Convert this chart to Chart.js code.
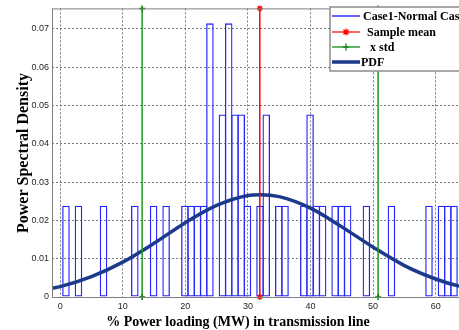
<!DOCTYPE html>
<html>
<head>
<meta charset="utf-8">
<script src="https://cdn.jsdelivr.net/npm/chart.js@4.4.1/dist/chart.umd.min.js"></script>
<style>
html, body { margin: 0; padding: 0; background: #fff; overflow: hidden; }
#wrap { position: relative; width: 480px; height: 330px; }
</style>
</head>
<body>
<div id="wrap"><canvas id="psdChart" width="480" height="330"></canvas></div>
<script>
// Histogram bins (centres, % loading) and density heights
const binCenters = [
    0.93, 1.93, 2.93, 3.93, 4.93, 5.93, 6.93, 7.93, 8.93, 9.93,
    10.93, 11.93, 12.93, 13.93, 14.93, 15.93, 16.93, 17.93, 18.93, 19.93,
    20.93, 21.93, 22.93, 23.93, 24.93, 25.93, 26.93, 27.93, 28.93, 29.93,
    30.93, 31.93, 32.93, 33.93, 34.93, 35.93, 36.93, 37.93, 38.93, 39.93,
    40.93, 41.93, 42.93, 43.93, 44.93, 45.93, 46.93, 47.93, 48.93, 49.93,
    50.93, 51.93, 52.93, 53.93, 54.93, 55.93, 56.93, 57.93, 58.93, 59.93,
    60.93, 61.93, 62.93, 63.93
];
const density = [
    0.0238, 0, 0.0238, 0, 0, 0, 0.0238, 0, 0, 0,
    0, 0.0238, 0, 0, 0.0238, 0, 0.0238, 0, 0, 0.0238,
    0.0238, 0.0238, 0.0238, 0.0714, 0, 0.0476, 0.0714, 0.0476, 0.0476, 0.0238,
    0, 0.0238, 0.0476, 0, 0.0238, 0.0238, 0, 0, 0.0238, 0.0476,
    0.0238, 0.0238, 0, 0.0238, 0.0238, 0.0238, 0, 0, 0.0238, 0,
    0, 0, 0.0238, 0, 0, 0, 0, 0, 0.0238, 0,
    0.0238, 0.0238, 0.0238, 0
];

// Fitted PDF, sampled from the curve
const pdfX = [-1.3, 0, 5, 10, 15, 20, 25, 30, 32, 35, 40, 45, 50, 55, 60, 63.6, 66.2];
const pdfY = [0.0023, 0.0027, 0.0053, 0.0091, 0.0140, 0.0194, 0.0239, 0.0265, 0.0267,
              0.0262, 0.0232, 0.0183, 0.0130, 0.0082, 0.0047, 0.0029, 0.0021];

const sampleMean = 31.9;
const stdLines = [13.1, 50.8];

const xTicks = [0, 10, 20, 30, 40, 50, 60];
const yTicks = [0, 0.01, 0.02, 0.03, 0.04, 0.05, 0.06, 0.07];
const xMin = -1.3, xMax = 66.2;
const yMin = 0, yMax = 0.0753;

const serif = '"Liberation Serif", "Times New Roman", serif';
const sans = '"Liberation Sans", Arial, sans-serif';

// grey box round the plot, the axis titles and the boxed legend
const decorations = {
    id: 'decorations',
    afterDatasetsDraw(chart) {
        const { ctx, chartArea: a } = chart;
        ctx.save();
        ctx.strokeStyle = '#7f7f7f';
        ctx.lineWidth = 1;
        ctx.strokeRect(a.left + 0.5, a.top + 0.5, a.right - a.left - 1, a.bottom - a.top);
        ctx.restore();
    },
    afterDraw(chart) {
        const ctx = chart.ctx;
        ctx.save();
        ctx.fillStyle = '#000';
        ctx.textAlign = 'center';
        ctx.textBaseline = 'alphabetic';
        ctx.font = 'bold 14px ' + serif;
        ctx.fillText('% Power loading (MW) in transmission line', 238, 326);

        ctx.font = 'bold 16px ' + serif;
        ctx.translate(28, 153);
        ctx.rotate(-Math.PI / 2);
        ctx.fillText('Power Spectral Density', 0, 0);
        ctx.restore();

        // legend
        ctx.save();
        ctx.fillStyle = '#fff';
        ctx.fillRect(330, 7, 145, 64);
        ctx.strokeStyle = '#8c8c8c';
        ctx.lineWidth = 1.5;
        ctx.strokeRect(330, 7, 145, 64);

        const entries = [
            { text: 'Case1-Normal Case', color: '#0000ff', width: 1.2, y: 16, tx: 363 },
            { text: 'Sample mean', color: '#ff0000', width: 1.2, y: 32, tx: 367, marker: 'star' },
            { text: 'x std', color: '#008000', width: 1.2, y: 47, tx: 370, marker: 'cross' },
            { text: 'PDF', color: '#1c3a8c', width: 3.5, y: 62, tx: 361 }
        ];
        ctx.font = 'bold 12px ' + serif;
        ctx.textAlign = 'left';
        ctx.textBaseline = 'middle';
        entries.forEach(e => {
            ctx.strokeStyle = e.color;
            ctx.lineWidth = e.width;
            ctx.beginPath();
            ctx.moveTo(332, e.y);
            ctx.lineTo(360, e.y);
            ctx.stroke();
            if (e.marker) {
                ctx.fillStyle = e.color;
                ctx.lineWidth = 1.2;
                Chart.helpers.drawPoint(ctx, { pointStyle: e.marker, radius: 3.5, rotation: 0, borderWidth: 1.2 }, 346, e.y);
            }
            ctx.fillStyle = '#000';
            ctx.fillText(e.text, e.tx, e.y + 1);
        });
        ctx.restore();
    }
};

const stdData = [];
stdLines.forEach((x, i) => {
    if (i > 0) stdData.push({ x: x, y: null });
    stdData.push({ x: x, y: yMin }, { x: x, y: yMax });
});

const gridColor = 'rgba(80,80,80,0.75)';

const ctx = document.getElementById('psdChart').getContext('2d');
new Chart(ctx, {
    type: 'bar',
    data: {
        datasets: [
            {
                type: 'line',
                label: 'Sample mean',
                data: [{ x: sampleMean, y: yMin }, { x: sampleMean, y: yMax }],
                borderColor: '#ff0000',
                borderWidth: 1.5,
                pointStyle: 'star',
                pointRadius: 3,
                pointBorderWidth: 1.2,
                pointBorderColor: '#ff0000',
                pointBackgroundColor: '#ff0000',
                clip: false,
                order: 1
            },
            {
                type: 'line',
                label: 'x std',
                data: stdData,
                borderColor: '#1f9a1f',
                borderWidth: 1.5,
                pointStyle: 'cross',
                pointRadius: 3,
                pointBorderWidth: 1.5,
                pointBorderColor: '#008000',
                spanGaps: false,
                clip: false,
                order: 2
            },
            {
                type: 'line',
                label: 'PDF',
                data: pdfX.map((x, i) => ({ x: x, y: pdfY[i] })),
                borderColor: '#1c3a8c',
                borderWidth: 3.5,
                pointRadius: 0,
                cubicInterpolationMode: 'monotone',
                order: 3
            },
            {
                type: 'bar',
                label: 'Case1-Normal Case',
                data: binCenters.map((x, i) => ({ x: x, y: density[i] })),
                borderColor: '#2424ff',
                backgroundColor: 'rgba(0,0,0,0)',
                borderWidth: 1.3,
                borderSkipped: false,
                barPercentage: 1.207,
                categoryPercentage: 1,
                grouped: false,
                order: 4
            }
        ]
    },
    options: {
        responsive: false,
        animation: false,
        layout: { padding: { top: 7, right: 5, left: 0, bottom: 0 } },
        plugins: {
            legend: { display: false },
            tooltip: { enabled: false }
        },
        scales: {
            x: {
                type: 'linear',
                min: xMin,
                max: xMax,
                offset: false,
                afterBuildTicks: scale => { scale.ticks = xTicks.map(v => ({ value: v })); },
                afterFit: scale => { scale.height = 33; },
                grid: {
                    offset: false,
                    drawTicks: false,
                    color: gridColor
                },
                border: { display: false, dash: [2, 2] },
                ticks: {
                    font: { family: sans, size: 9 },
                    color: '#262626',
                    padding: 4,
                    maxRotation: 0,
                    autoSkip: false
                }
            },
            y: {
                type: 'linear',
                min: yMin,
                max: yMax,
                afterBuildTicks: scale => { scale.ticks = yTicks.map(v => ({ value: v })); },
                afterFit: scale => { scale.width = 52; },
                grid: {
                    drawTicks: false,
                    color: gridColor
                },
                border: { display: false, dash: [2, 2] },
                ticks: {
                    font: { family: sans, size: 9 },
                    color: '#262626',
                    padding: 3,
                    callback: v => String(v)
                }
            }
        }
    },
    plugins: [decorations]
});
</script>
</body>
</html>
